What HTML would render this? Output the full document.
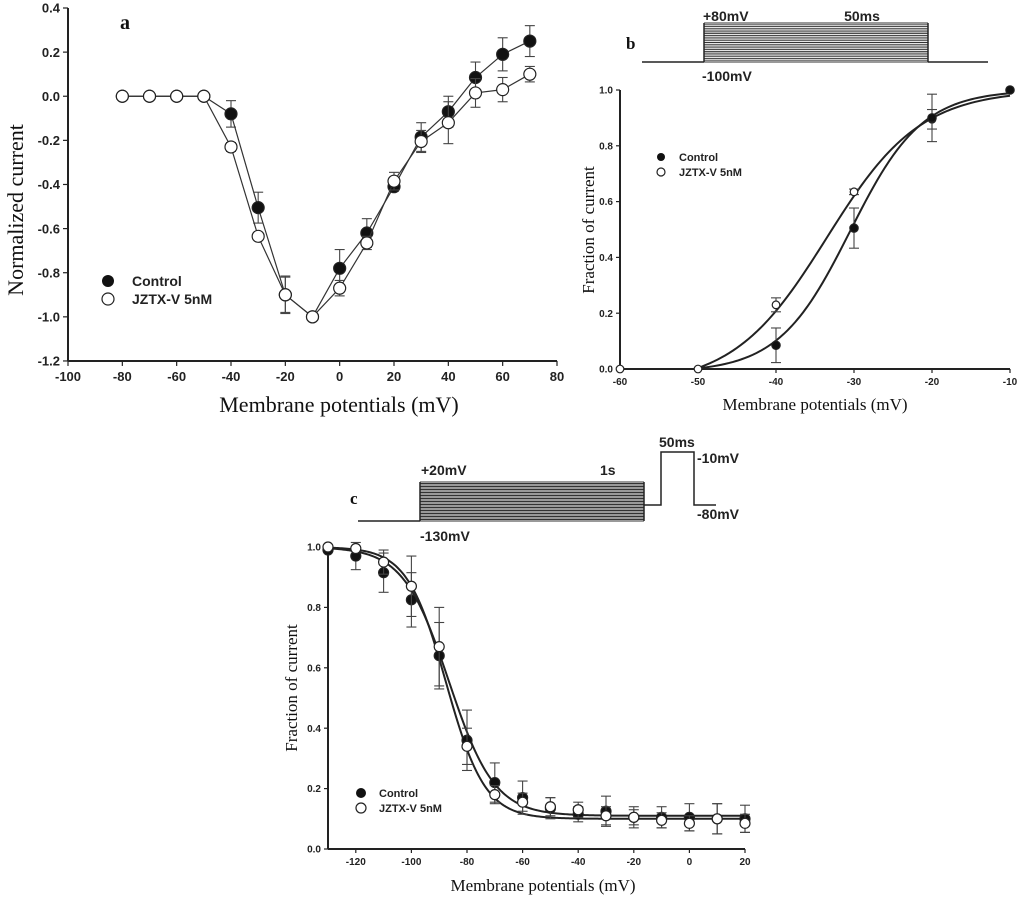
<!DOCTYPE html>
<html><head><meta charset="utf-8">
<style>
html,body{margin:0;padding:0;background:#fff;}
svg{display:block;}
.tk{font-family:"Liberation Sans",sans-serif;font-weight:bold;fill:#222;}
.ttl{font-family:"Liberation Serif",serif;fill:#111;}
</style></head>
<body>
<svg id="fig" width="1024" height="898" viewBox="0 0 1024 898" xmlns="http://www.w3.org/2000/svg"></svg>
<script>
// ---------- Panel a data ----------
const aVolt = [-80,-70,-60,-50,-40,-30,-20,-10,0,10,20,30,40,50,60,70];
const aCtrl = [0,0,0,0,-0.08,-0.505,-0.9,-1.0,-0.78,-0.62,-0.41,-0.185,-0.07,0.085,0.19,0.25];
const aCtrlErr = [0,0,0,0,0.06,0.07,0.08,0,0.085,0.065,0.02,0.065,0.07,0.07,0.075,0.07];
const aJz = [0,0,0,0,-0.23,-0.635,-0.9,-1.0,-0.87,-0.665,-0.385,-0.205,-0.12,0.015,0.03,0.1];
const aJzErr = [0,0,0,0,0.02,0.01,0.085,0,0.035,0.03,0.04,0.05,0.095,0.065,0.055,0.035];
const aXTicks = [-100,-80,-60,-40,-20,0,20,40,60,80];
const aYTicks = [0.4,0.2,0.0,-0.2,-0.4,-0.6,-0.8,-1.0,-1.2];
// ---------- Panel b data ----------
const bCtrlV = [-40,-30,-20,-10];
const bCtrl = [0.085,0.505,0.9,1.0];
const bCtrlErr = [0.062,0.072,0.085,0];
const bJzV = [-60,-50,-40,-30,-20,-10];
const bJz = [0,0,0.23,0.635,0.895,1.0];
const bJzErr = [0,0,0.025,0.01,0.035,0];
const bFitCtrl = [-30.5,4.6];   // V1/2, k
const bFitJz = [-33.5,6.0];
const bXTicks = [-60,-50,-40,-30,-20,-10];
const bYTicks = [0,0.2,0.4,0.6,0.8,1.0];
// ---------- Panel c data ----------
const cV = [-130,-120,-110,-100,-90,-80,-70,-60,-50,-40,-30,-20,-10,0,10,20];
const cCtrl = [0.99,0.97,0.915,0.825,0.64,0.36,0.22,0.17,0.135,0.115,0.125,0.105,0.105,0.105,0.1,0.1];
const cCtrlErr = [0,0.045,0.065,0.09,0.11,0.1,0.065,0.055,0.035,0.025,0.05,0.035,0.035,0.045,0.05,0.045];
const cJz = [1.0,0.995,0.95,0.87,0.67,0.34,0.18,0.155,0.14,0.13,0.11,0.105,0.095,0.085,0.1,0.085];
const cJzErr = [0,0,0.04,0.1,0.13,0.06,0.03,0.03,0.03,0.025,0.03,0.025,0.025,0.025,0.05,0.03];
const cFitCtrl = [-86.5,8.2,0.11];  // V1/2, k, bottom
const cFitJz = [-87.5,7.0,0.10];
const cXTicks = [-120,-100,-80,-60,-40,-20,0,20];
const cYTicks = [0,0.2,0.4,0.6,0.8,1.0];

const NS="http://www.w3.org/2000/svg";
const svg=document.getElementById('fig');
function el(tag,attrs,parent,text){const e=document.createElementNS(NS,tag);for(const k in attrs)e.setAttribute(k,attrs[k]);if(text!==undefined)e.textContent=text;(parent||svg).appendChild(e);return e;}
function grp(name){const g=el('g',{},svg);return g;}
function fmt(v,d){return v.toFixed(d);}

function axes(g,X,Y,xt,yt,x0,x1,y0,y1,fs,xd,yd,tl){
  const ax=el('g',{},g);
  
  
  el('line',{x1:X(x0),y1:Y(y0),x2:X(x1),y2:Y(y0),stroke:'#222','stroke-width':2},ax);
  el('line',{x1:X(x0),y1:Y(y0),x2:X(x0),y2:Y(y1),stroke:'#222','stroke-width':2},ax);
  xt.forEach(v=>{el('line',{x1:X(v),y1:Y(y0),x2:X(v),y2:Y(y0)+tl,stroke:'#222','stroke-width':1.2},ax);
    const t=el('text',{x:X(v),y:Y(y0)+tl+fs+2,'text-anchor':'middle','font-size':fs,class:'tk'},ax,String(v));
    
    });
  yt.forEach(v=>{el('line',{x1:X(x0),y1:Y(v),x2:X(x0)-tl,y2:Y(v),stroke:'#222','stroke-width':1.2},ax);
    const t=el('text',{x:X(x0)-tl-3,y:Y(v)+fs*0.36,'text-anchor':'end','font-size':fs,class:'tk'},ax,fmt(v,yd));
    
    });
}
function series(g,name,X,Y,xs,ys,es,filled,r,connect){
  const s=el('g',{},g);
  
  
  if(connect){el('polyline',{points:xs.map((x,i)=>X(x)+','+Y(ys[i])).join(' '),fill:'none',stroke:'#333','stroke-width':1.2},s);}
  xs.forEach((x,i)=>{
    if(es[i]>0){const cx=X(x),ya=Y(ys[i]+es[i]),yb=Y(ys[i]-es[i]);
      el('line',{x1:cx,y1:ya,x2:cx,y2:yb,stroke:'#444','stroke-width':1.1},s);
      el('line',{x1:cx-5,y1:ya,x2:cx+5,y2:ya,stroke:'#444','stroke-width':1.1},s);
      el('line',{x1:cx-5,y1:yb,x2:cx+5,y2:yb,stroke:'#444','stroke-width':1.1},s);}
  });
  xs.forEach((x,i)=>{const c=el('circle',{cx:X(x),cy:Y(ys[i]),r:r,fill:filled?'#111':'#fff',stroke:'#222','stroke-width':1.2},s);
    
    });
}
function legend(g,x,y,dy,r,fs){
  const l=el('g',{},g);
  
  
  el('circle',{cx:x,cy:y,r:r,fill:'#111'},l);
  el('text',{x:x+(fs>12?24:18),y:y+fs*0.36,'font-size':fs,class:'tk'},l,'Control');
  el('circle',{cx:x,cy:y+dy,r:r,fill:'#fff',stroke:'#222','stroke-width':1.2},l);
  el('text',{x:x+(fs>12?24:18),y:y+dy+fs*0.36,'font-size':fs,class:'tk'},l,'JZTX-V 5nM');
}
function hatch(g,x1,x2,ytop,ybot,n){
  for(let i=0;i<=n;i++){const y=ytop+(ybot-ytop)*i/n;el('line',{x1:x1,y1:y,x2:x2,y2:y,stroke:'#333','stroke-width':0.9},g);}
  el('line',{x1:x1,y1:ytop,x2:x1,y2:ybot,stroke:'#222','stroke-width':1.5},g);
  el('line',{x1:x2,y1:ytop,x2:x2,y2:ybot,stroke:'#222','stroke-width':1.5},g);
}

// ===== Panel a =====
{
const g=grp('panel-a');
const X=v=>68+(v+100)*489/180, Y=v=>8+(0.4-v)*220.6;
axes(g,X,Y,aXTicks,aYTicks,-100,80,-1.2,0.4,13,0,1,5);
series(g,'series-control',X,Y,aVolt,aCtrl,aCtrlErr,true,6,true);
series(g,'series-jztx',X,Y,aVolt,aJz,aJzErr,false,6,true);
legend(g,108,281,18,6,14);
el('text',{x:339,y:412,'text-anchor':'middle','font-size':22,class:'ttl'},g,'Membrane potentials (mV)');
el('text',{x:0,y:0,'text-anchor':'middle','font-size':22,class:'ttl',transform:'translate(23,210) rotate(-90)'},g,'Normalized current');
el('text',{x:120,y:29,'font-size':20,'font-weight':'bold',class:'ttl'},g,'a');
}
// ===== Panel b =====
{
const g=grp('panel-b');
const X=v=>620+(v+60)*390/50, Y=v=>369-v*279;
const p=el('g',{},g);


el('polyline',{points:'642,62 704,62',fill:'none',stroke:'#222','stroke-width':1.5},p);
el('polyline',{points:'928,62 988,62',fill:'none',stroke:'#222','stroke-width':1.5},p);
hatch(p,704,928,23,62,22);
el('text',{x:703,y:21,'font-size':14,class:'tk'},p,'+80mV');
el('text',{x:862,y:21,'text-anchor':'middle','font-size':14,class:'tk'},p,'50ms');
el('text',{x:702,y:81,'font-size':14,class:'tk'},p,'-100mV');
el('text',{x:626,y:49,'font-size':17,'font-weight':'bold',class:'ttl'},p,'b');
axes(g,X,Y,bXTicks,bYTicks,-60,-10,0,1,10,0,1,4);
[bFitCtrl,bFitJz].forEach((f,j)=>{let pts=[];const c=j?0.06:0.012;for(let v=-60;v<=-9.99;v+=0.5){let y=(1+c)/(1+Math.exp((f[0]-v)/f[1]))-c;if(y<0)continue;pts.push(X(v)+','+Y(y));}
  const pl=el('polyline',{points:pts.join(' '),fill:'none',stroke:'#222','stroke-width':2},g);
  
  });
series(g,'series-jztx',X,Y,bJzV,bJz,bJzErr,false,3.8,false);
series(g,'series-control',X,Y,bCtrlV,bCtrl,bCtrlErr,true,4.2,false);
legend(g,661,157,15,4,11);
el('text',{x:815,y:410,'text-anchor':'middle','font-size':17,class:'ttl'},g,'Membrane potentials (mV)');
el('text',{x:0,y:0,'text-anchor':'middle','font-size':17,class:'ttl',transform:'translate(594,230) rotate(-90)'},g,'Fraction of current');
}
// ===== Panel c =====
{
const g=grp('panel-c');
const X=v=>328+(v+130)*417/150, Y=v=>849-v*302;
const p=el('g',{},g);


el('polyline',{points:'358,521 420,521',fill:'none',stroke:'#222','stroke-width':1.5},p);
hatch(p,420,644,482,521,26);
el('polyline',{points:'644,505 661,505 661,452 694,452 694,505 716,505',fill:'none',stroke:'#222','stroke-width':1.5},p);
el('text',{x:421,y:475,'font-size':14,class:'tk'},p,'+20mV');
el('text',{x:600,y:475,'font-size':14,class:'tk'},p,'1s');
el('text',{x:420,y:541,'font-size':14,class:'tk'},p,'-130mV');
el('text',{x:659,y:447,'font-size':14,class:'tk'},p,'50ms');
el('text',{x:697,y:463,'font-size':14,class:'tk'},p,'-10mV');
el('text',{x:697,y:519,'font-size':14,class:'tk'},p,'-80mV');
el('text',{x:350,y:504,'font-size':17,'font-weight':'bold',class:'ttl'},p,'c');
axes(g,X,Y,cXTicks,cYTicks,-130,20,0,1,10,0,1,4);
[cFitCtrl,cFitJz].forEach((f,j)=>{let pts=[];for(let v=-130;v<=20.001;v+=0.5){const y=f[2]+(1-f[2])/(1+Math.exp((v-f[0])/f[1]));pts.push(X(v)+','+Y(y));}
  const pl=el('polyline',{points:pts.join(' '),fill:'none',stroke:'#222','stroke-width':2},g);
  
  });
series(g,'series-control',X,Y,cV,cCtrl,cCtrlErr,true,5,false);
series(g,'series-jztx',X,Y,cV,cJz,cJzErr,false,5,false);
legend(g,361,793,15,5,11);
el('text',{x:543,y:891,'text-anchor':'middle','font-size':17,class:'ttl'},g,'Membrane potentials (mV)');
el('text',{x:0,y:0,'text-anchor':'middle','font-size':17,class:'ttl',transform:'translate(297,688) rotate(-90)'},g,'Fraction of current');
}
</script>
</body></html>
